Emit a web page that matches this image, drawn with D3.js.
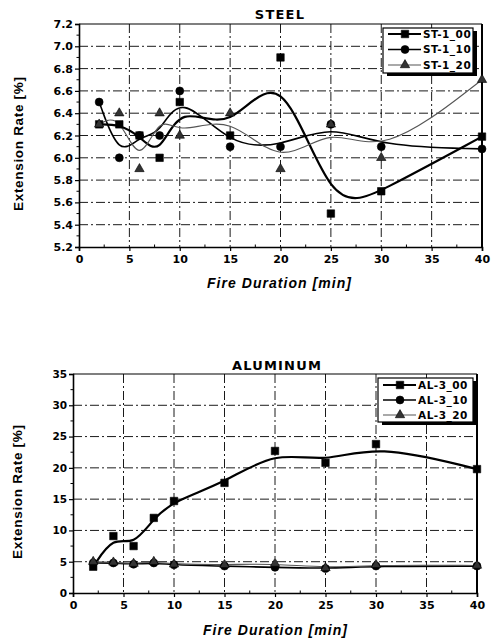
<!DOCTYPE html>
<html>
<head>
<meta charset="utf-8">
<script src="https://cdn.jsdelivr.net/npm/d3@7"></script>
<style>
  html, body { margin: 0; padding: 0; background: #fff; }
  svg { display: block; }
  .tick-label { font-family: "DejaVu Sans", sans-serif; font-weight: bold; fill: #000; }
  .title { font-family: "DejaVu Sans", sans-serif; font-weight: bold; fill: #000; }
  .axis-title { font-family: "Liberation Sans", Arial, sans-serif; font-weight: bold; fill: #000; }
  .legend-text { font-family: "DejaVu Sans", sans-serif; font-weight: bold; fill: #000; }
</style>
</head>
<body>
<svg id="chart" width="492" height="641"></svg>
<script>
// Fire duration (minutes) at which each specimen was measured
const minutes = [2, 4, 6, 8, 10, 15, 20, 25, 30, 40];

// Steel specimens: extension rate [%]
const st1_00 = [6.3, 6.3, 6.2, 6.0, 6.5, 6.2, 6.9, 5.5, 5.7, 6.19];
const st1_10 = [6.5, 6.0, 6.2, 6.2, 6.6, 6.1, 6.1, 6.3, 6.1, 6.08];
const st1_20 = [6.3, 6.4, 5.9, 6.4, 6.2, 6.4, 5.9, 6.3, 6.0, 6.7];

// Aluminum specimens: extension rate [%]
const al3_00 = [4.2, 9.1, 7.5, 12.0, 14.7, 17.6, 22.7, 20.8, 23.8, 19.8];
const al3_10 = [4.8, 4.8, 4.6, 4.8, 4.5, 4.3, 4.1, 3.9, 4.3, 4.3];
const al3_20 = [5.0, 4.9, 4.7, 5.0, 4.6, 4.5, 4.7, 4.0, 4.5, 4.4];

// Axis ticks
const xTicks = [0, 5, 10, 15, 20, 25, 30, 35, 40];
const steelYTicks = [5.2, 5.4, 5.6, 5.8, 6.0, 6.2, 6.4, 6.6, 6.8, 7.0, 7.2];
const alYTicks = [0, 5, 10, 15, 20, 25, 30, 35];

const steelNames = ["ST-1_00", "ST-1_10", "ST-1_20"];
const alNames = ["AL-3_00", "AL-3_10", "AL-3_20"];

const svg = d3.select("#chart");

// Per-series drawing styles: heavy, medium, light
const styles = [
  { shape: d3.symbolSquare, size: 56, line: "#000", width: 2.2, fill: "#000" },
  { shape: d3.symbolCircle, size: 50, line: "#000", width: 1.6, fill: "#000" },
  { shape: d3.symbolTriangle, size: 38, line: "#555", width: 1.1, fill: "#333" }
];

function drawPanel(opt) {
  const g = svg.append("g");
  const x = d3.scaleLinear().domain([0, 40]).range([opt.left, opt.right]);
  const y = d3.scaleLinear().domain(opt.yDomain).range([opt.bottom, opt.top]);

  // dash-dot grid
  const grid = g.append("g").attr("stroke", "#000").attr("stroke-width", 0.9)
    .attr("stroke-dasharray", "9,3,2,3").attr("fill", "none");
  grid.selectAll("line.h").data(opt.yTicks.slice(1, -1)).join("line")
    .attr("x1", opt.left).attr("x2", opt.right)
    .attr("y1", d => y(d)).attr("y2", d => y(d));
  grid.selectAll("line.v").data(xTicks.slice(1, -1)).join("line")
    .attr("y1", opt.top).attr("y2", opt.bottom)
    .attr("x1", d => x(d)).attr("x2", d => x(d));

  // frame
  g.append("line").attr("x1", opt.left).attr("x2", opt.right).attr("y1", opt.top).attr("y2", opt.top)
    .attr("stroke", "#000").attr("stroke-width", 1.2);
  g.append("line").attr("x1", opt.right).attr("x2", opt.right).attr("y1", opt.top).attr("y2", opt.bottom)
    .attr("stroke", "#000").attr("stroke-width", 2);

  // axes
  const yAxis = d3.axisLeft(y).tickValues(opt.yTicks).tickSize(4).tickFormat(opt.yFormat);
  const ya = g.append("g").attr("transform", `translate(${opt.left},0)`).call(yAxis);
  const xAxis = d3.axisBottom(x).tickValues(xTicks).tickSize(4).tickPadding(4).tickFormat(d3.format("d"));
  const xa = g.append("g").attr("transform", `translate(0,${opt.bottom})`).call(xAxis);
  [ya, xa].forEach(a => {
    a.select(".domain").attr("stroke", "#000").attr("stroke-width", 1.6);
    a.selectAll(".tick line").attr("stroke", "#000").attr("stroke-width", 1.2);
    a.selectAll("text").attr("class", "tick-label").attr("fill", "#000");
  });
  ya.selectAll("text").style("font-size", opt.yTickFont + "px").attr("x", -6);
  xa.selectAll("text").style("font-size", opt.xTickFont + "px");

  // minor ticks
  const yMinor = d3.range(opt.yTicks.length - 1).map(i => (opt.yTicks[i] + opt.yTicks[i + 1]) / 2);
  g.append("g").selectAll("line").data(yMinor).join("line")
    .attr("x1", opt.left - 2.5).attr("x2", opt.left)
    .attr("y1", d => y(d)).attr("y2", d => y(d))
    .attr("stroke", "#000").attr("stroke-width", 1);
  const xMinor = d3.range(xTicks.length - 1).map(i => (xTicks[i] + xTicks[i + 1]) / 2);
  g.append("g").selectAll("line").data(xMinor).join("line")
    .attr("x1", d => x(d)).attr("x2", d => x(d))
    .attr("y1", opt.bottom - 2.5).attr("y2", opt.bottom)
    .attr("stroke", "#000").attr("stroke-width", 1);

  // smoothed trend lines
  const line = d3.line().x((d, i) => x(minutes[i])).y(d => y(d)).curve(d3.curveBasis);
  opt.series.forEach((s, k) => {
    g.append("path").attr("d", line(s)).attr("fill", "none")
      .attr("stroke", styles[k].line).attr("stroke-width", styles[k].width)
      .attr("stroke-linejoin", "round");
  });

  // measured points
  opt.series.forEach((s, k) => {
    const sym = d3.symbol().type(styles[k].shape).size(styles[k].size);
    g.append("g").selectAll("path").data(s).join("path")
      .attr("transform", (d, i) => `translate(${x(minutes[i])},${y(d)})`)
      .attr("d", sym).attr("fill", styles[k].fill)
      .attr("stroke", "#000").attr("stroke-width", 0.6);
  });

  // titles
  g.append("text").attr("class", "title").attr("x", opt.titleX).attr("y", opt.titleY)
    .attr("text-anchor", "middle").style("font-size", "13px").style("letter-spacing", "1.2px")
    .text(opt.title);
  g.append("text").attr("class", "axis-title")
    .attr("x", opt.xTitleX).attr("y", opt.xTitleY).attr("text-anchor", "middle")
    .style("font-size", "14px").style("font-style", "italic")
    .attr("textLength", 144).attr("lengthAdjust", "spacing")
    .text("Fire Duration [min]");
  g.append("text").attr("class", "axis-title")
    .attr("transform", `translate(${opt.yTitleX},${opt.yTitleY}) rotate(-90)`)
    .attr("text-anchor", "middle").style("font-size", "13.5px")
    .attr("textLength", 134).attr("lengthAdjust", "spacing")
    .text("Extension Rate [%]");

  // legend with drop shadow
  const L = opt.legend;
  g.append("rect").attr("x", L.x + 4).attr("y", L.y + 3).attr("width", L.w).attr("height", L.h).attr("fill", "#000");
  g.append("rect").attr("x", L.x).attr("y", L.y).attr("width", L.w).attr("height", L.h)
    .attr("fill", "#fff").attr("stroke", "#000").attr("stroke-width", 1.2);
  opt.names.forEach((name, k) => {
    const ry = L.y + L.row0 + k * L.rowStep;
    g.append("line").attr("x1", L.x + 5).attr("x2", L.x + 38).attr("y1", ry).attr("y2", ry)
      .attr("stroke", styles[k].line).attr("stroke-width", Math.min(styles[k].width, 1.8));
    g.append("path").attr("transform", `translate(${L.x + 22},${ry})`)
      .attr("d", d3.symbol().type(styles[k].shape).size(styles[k].size)())
      .attr("fill", styles[k].fill).attr("stroke", "#000").attr("stroke-width", 0.6);
    g.append("text").attr("class", "legend-text").attr("x", L.x + 40).attr("y", ry + 3.8)
      .style("font-size", "10.5px").style("letter-spacing", "0.5px").text(name);
  });
}

drawPanel({
  left: 79, right: 482, top: 24, bottom: 247,
  yDomain: [5.2, 7.2], yTicks: steelYTicks, yFormat: d3.format(".1f"),
  yTickFont: 11, xTickFont: 11,
  series: [st1_00, st1_10, st1_20], names: steelNames,
  title: "STEEL", titleX: 280, titleY: 19,
  xTitleX: 279, xTitleY: 288, yTitleX: 23, yTitleY: 144,
  legend: { x: 383, y: 28, w: 90, h: 45, row0: 6, rowStep: 15.5 }
});

drawPanel({
  left: 73, right: 477, top: 374, bottom: 593,
  yDomain: [0, 35], yTicks: alYTicks, yFormat: d3.format("d"),
  yTickFont: 10.5, xTickFont: 11,
  series: [al3_00, al3_10, al3_20], names: alNames,
  title: "ALUMINUM", titleX: 277, titleY: 370,
  xTitleX: 275, xTitleY: 635, yTitleX: 22, yTitleY: 492,
  legend: { x: 378, y: 378, w: 95, h: 44, row0: 7, rowStep: 15 }
});
</script>
</body>
</html>
